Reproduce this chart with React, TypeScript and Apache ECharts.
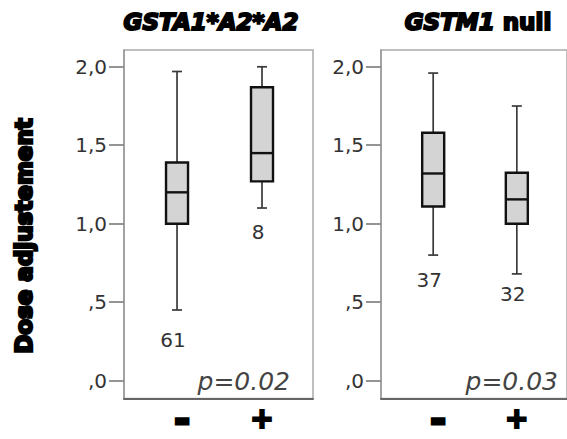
import React, { useEffect, useRef } from 'react';
import * as echarts from 'echarts';

// ---- data ----
const groups = ['-', '+'];
const yTicks = [0, 0.5, 1, 1.5, 2];
const yTickLabels = [',0', ',5', '1,0', '1,5', '2,0'];
// [min, Q1, median, Q3, max]
const gstaBoxes = [
  [0.45, 1.0, 1.2, 1.39, 1.97],
  [1.1, 1.27, 1.45, 1.87, 2.0],
];
const gstmBoxes = [
  [0.8, 1.11, 1.32, 1.58, 1.96],
  [0.68, 1.0, 1.155, 1.325, 1.75],
];
const gstaN = [61, 8];
const gstmN = [37, 32];
const gstaNLabelY = [0.26, 0.95];
const gstmNLabelY = [0.64, 0.55];
const pValues = ['p=0.02', 'p=0.03'];

const FONT = '"DejaVu Sans", Verdana, sans-serif';

function renderBox(params: any, api: any) {
  const x = api.value(0);
  const pMin = api.coord([x, api.value(1)]);
  const pQ1 = api.coord([x, api.value(2)]);
  const pMed = api.coord([x, api.value(3)]);
  const pQ3 = api.coord([x, api.value(4)]);
  const pMax = api.coord([x, api.value(5)]);
  const cx = pMin[0];
  const hw = 11;
  const cw = 5;
  const wStyle = { stroke: '#3a3a3a', lineWidth: 1.7 };
  const bStyle = { stroke: '#111', lineWidth: 2.4 };
  return {
    type: 'group',
    children: [
      { type: 'line', shape: { x1: cx, y1: pMax[1], x2: cx, y2: pQ3[1] }, style: wStyle },
      { type: 'line', shape: { x1: cx, y1: pQ1[1], x2: cx, y2: pMin[1] }, style: wStyle },
      { type: 'line', shape: { x1: cx - cw, y1: pMax[1], x2: cx + cw, y2: pMax[1] }, style: wStyle },
      { type: 'line', shape: { x1: cx - cw, y1: pMin[1], x2: cx + cw, y2: pMin[1] }, style: wStyle },
      {
        type: 'rect',
        shape: { x: cx - hw, y: pQ3[1], width: 2 * hw, height: pQ1[1] - pQ3[1] },
        style: { fill: '#d4d4d4', ...bStyle },
      },
      { type: 'line', shape: { x1: cx - hw, y1: pMed[1], x2: cx + hw, y2: pMed[1] }, style: bStyle },
    ],
  };
}

function renderCount(params: any, api: any) {
  const pt = api.coord([api.value(0), api.value(1)]);
  return {
    type: 'text',
    x: pt[0] - 4,
    y: pt[1],
    style: {
      text: String(api.value(2)),
      fill: '#333',
      fontSize: 20,
      fontFamily: FONT,
      align: 'center',
      verticalAlign: 'middle',
    },
  };
}

function yAxisFor(gridIndex: number) {
  return {
    type: 'value',
    gridIndex,
    min: -0.114,
    max: 2.107,
    axisLine: { show: true, onZero: false, lineStyle: { color: '#999', width: 1.5 } },
    axisTick: {
      show: true,
      length: 15,
      customValues: yTicks,
      lineStyle: { color: '#888', width: 1.8 },
    },
    axisLabel: {
      customValues: yTicks,
      margin: 17,
      fontSize: 20,
      color: '#333',
      fontFamily: FONT,
      formatter: (v: number) => {
        const i = yTicks.findIndex((t) => Math.abs(t - v) < 1e-6);
        return i >= 0 ? yTickLabels[i] : '';
      },
    },
    splitLine: { show: false },
  };
}

function xAxisFor(gridIndex: number) {
  return {
    type: 'value',
    gridIndex,
    min: -0.624,
    max: 1.6,
    axisLine: { show: true, onZero: false, lineStyle: { color: '#666', width: 2 } },
    axisTick: { show: false },
    splitLine: { show: false },
    axisLabel: {
      customValues: [0, 1],
      margin: 6,
      color: '#000',
      fontFamily: FONT,
      formatter: (v: number) => {
        const g = groups[Math.round(v)] ?? '';
        return g === '-' ? '{m|' + g + '}' : '{p|' + g + '}';
      },
      rich: {
        m: {
          fontSize: 38,
          fontWeight: 'bold',
          fontFamily: FONT,
          color: '#000',
          textBorderColor: '#000',
          textBorderWidth: 3,
          lineHeight: 28,
          padding: [0, 0, 0, 10],
        },
        p: {
          fontSize: 28,
          fontWeight: 'bold',
          fontFamily: FONT,
          color: '#000',
          textBorderColor: '#000',
          textBorderWidth: 2.2,
          lineHeight: 28,
        },
      },
    },
  };
}

export default function App() {
  const ref = useRef<HTMLDivElement>(null);
  useEffect(() => {
    if (!ref.current) return;
    const chart = echarts.init(ref.current, null, { renderer: 'svg' });
    const heavy = {
      fill: '#000',
      fontFamily: FONT,
      fontWeight: 'bold',
      stroke: '#000',
      lineWidth: 2,
    };
    chart.setOption({
      animation: false,
      backgroundColor: '#fff',
      grid: [
        { left: 124, top: 50, width: 189, height: 352, show: true, borderColor: '#aaa', borderWidth: 1.5 },
        { left: 381, top: 50, width: 189, height: 352, show: true, borderColor: '#aaa', borderWidth: 1.5 },
      ],
      xAxis: [xAxisFor(0), xAxisFor(1)],
      yAxis: [yAxisFor(0), yAxisFor(1)],
      series: [
        {
          type: 'custom',
          xAxisIndex: 0,
          yAxisIndex: 0,
          renderItem: renderBox,
          encode: { x: 0, y: [1, 2, 3, 4, 5] },
          data: gstaBoxes.map((b, i) => [i, ...b]),
        },
        {
          type: 'custom',
          xAxisIndex: 1,
          yAxisIndex: 1,
          renderItem: renderBox,
          encode: { x: 0, y: [1, 2, 3, 4, 5] },
          data: gstmBoxes.map((b, i) => [i, ...b]),
        },
        {
          type: 'custom',
          xAxisIndex: 0,
          yAxisIndex: 0,
          renderItem: renderCount,
          encode: { x: 0, y: 1 },
          data: gstaN.map((n, i) => [i, gstaNLabelY[i], n]),
        },
        {
          type: 'custom',
          xAxisIndex: 1,
          yAxisIndex: 1,
          renderItem: renderCount,
          encode: { x: 0, y: 1 },
          data: gstmN.map((n, i) => [i, gstmNLabelY[i], n]),
        },
      ],
      graphic: [
        {
          type: 'text',
          x: 211,
          y: 22,
          style: {
            text: 'GSTA1*A2*A2',
            ...heavy,
            fontStyle: 'italic',
            fontSize: 23,
            align: 'center',
            verticalAlign: 'middle',
          },
        },
        {
          type: 'text',
          x: 478,
          y: 22,
          style: {
            text: '{i|GSTM1} {n|null}',
            align: 'center',
            verticalAlign: 'middle',
            fill: '#000',
            stroke: '#000',
            lineWidth: 2,
            fontFamily: FONT,
            fontWeight: 'bold',
            fontSize: 23,
            rich: {
              i: { fontStyle: 'italic', fontWeight: 'bold', fontSize: 23, fontFamily: FONT },
              n: { fontWeight: 'bold', fontSize: 23, fontFamily: FONT },
            },
          },
        },
        {
          type: 'text',
          x: 24,
          y: 236,
          rotation: Math.PI / 2,
          style: {
            text: 'Dose adjustement',
            ...heavy,
            lineWidth: 2.4,
            fontSize: 23,
            align: 'center',
            verticalAlign: 'middle',
          },
        },
        {
          type: 'text',
          x: 290,
          y: 381,
          style: {
            text: pValues[0],
            fill: '#444',
            fontFamily: FONT,
            fontStyle: 'italic',
            fontSize: 25,
            align: 'right',
            verticalAlign: 'middle',
          },
        },
        {
          type: 'text',
          x: 558,
          y: 381,
          style: {
            text: pValues[1],
            fill: '#444',
            fontFamily: FONT,
            fontStyle: 'italic',
            fontSize: 25,
            align: 'right',
            verticalAlign: 'middle',
          },
        },
      ],
    });
    return () => chart.dispose();
  }, []);
  return (
    <div
      ref={ref}
      style={{ position: 'fixed', left: 0, top: 0, width: 567, height: 439 }}
    />
  );
}
